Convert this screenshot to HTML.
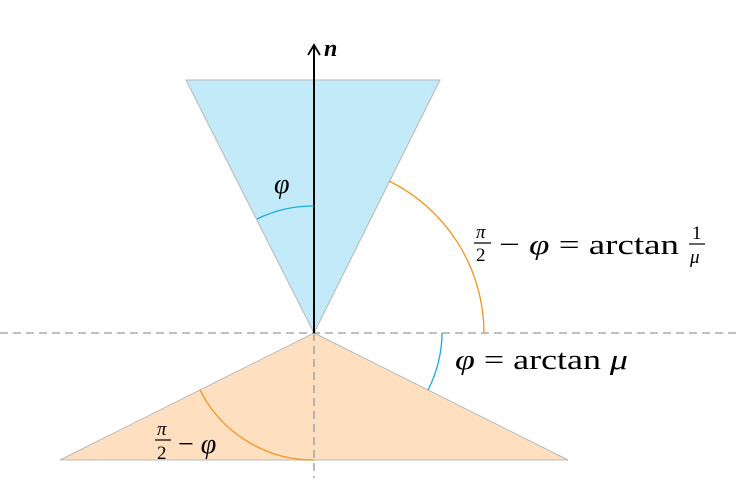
<!DOCTYPE html>
<html><head><meta charset="utf-8"><style>html,body{margin:0;padding:0;background:#fff}svg{display:block}</style></head><body>
<svg width="736" height="502" viewBox="0 0 736 502" xmlns="http://www.w3.org/2000/svg" font-family="'Liberation Serif', serif">
<polygon points="186,80 440,80 314,333" fill="#c2eaf8" stroke="#b8b8b8" stroke-width="1"/>
<polygon points="314,333 568,460 60,460" fill="#fedfc0" stroke="#b8b8b8" stroke-width="1"/>
<line x1="0" y1="333" x2="736" y2="333" stroke="#999" stroke-width="1.3" stroke-dasharray="8,5"/>
<line x1="314" y1="333" x2="314" y2="478" stroke="#999" stroke-width="1.3" stroke-dasharray="8,5"/>
<line x1="314" y1="333" x2="314" y2="47" stroke="#000" stroke-width="2"/>
<polyline points="308,55 314,45 320,55" fill="none" stroke="#000" stroke-width="1.8"/>
<text x="324" y="56" font-size="24" font-weight="bold" font-style="italic">n</text>
<path d="M314,206 A127,127 0 0 0 257,219" fill="none" stroke="#1aaae0" stroke-width="1.3"/>
<path d="M389,181 A170,170 0 0 1 484,333" fill="none" stroke="#f7931e" stroke-width="1.3"/>
<path d="M442,333 A128,128 0 0 1 428,390" fill="none" stroke="#1aaae0" stroke-width="1.3"/>
<path d="M200,390 A127,127 0 0 0 314,460" fill="none" stroke="#f7931e" stroke-width="1.3"/>
<text x="274" y="193" font-size="28" font-style="italic">φ</text>
<text x="476" y="238" font-size="19" font-style="italic">π</text>
<line x1="474" y1="243" x2="491" y2="243" stroke="#000" stroke-width="1.2"/>
<text x="476" y="261" font-size="19">2</text>
<text x="499" y="254" font-size="29" textLength="180" lengthAdjust="spacingAndGlyphs">− <tspan font-style="italic">φ</tspan> = arctan</text>
<text x="692" y="239" font-size="19">1</text>
<line x1="689" y1="244" x2="705" y2="244" stroke="#000" stroke-width="1.2"/>
<text x="690" y="263" font-size="19" font-style="italic">μ</text>
<text x="455" y="369" font-size="29" textLength="173" lengthAdjust="spacingAndGlyphs"><tspan font-style="italic">φ</tspan> = arctan <tspan font-style="italic">μ</tspan></text>
<text x="157" y="435" font-size="19" font-style="italic">π</text>
<line x1="155" y1="440" x2="171" y2="440" stroke="#000" stroke-width="1.2"/>
<text x="157" y="459" font-size="19">2</text>
<text x="178" y="453" font-size="28">− <tspan font-style="italic">φ</tspan></text>
</svg>
</body></html>
